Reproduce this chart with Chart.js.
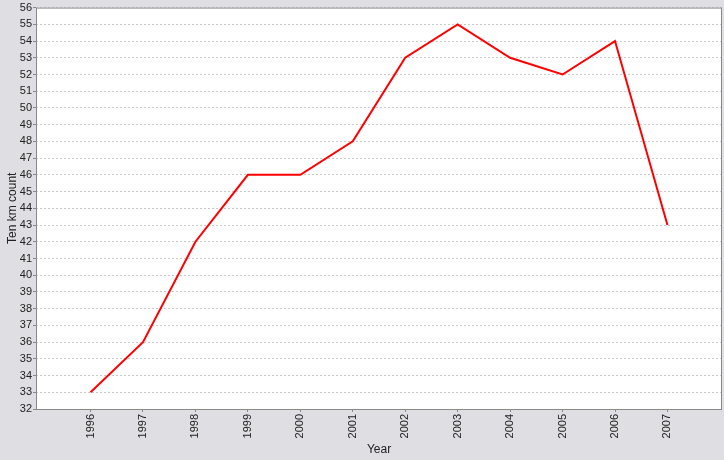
<!DOCTYPE html>
<html>
<head>
<meta charset="utf-8">
<script src="https://cdn.jsdelivr.net/npm/chart.js@4"></script>
<style>
  html, body { margin: 0; padding: 0; background: #dfdfe3; }
  #wrap { position: relative; width: 724px; height: 460px; }
</style>
</head>
<body>
<div id="wrap"><canvas id="chart"></canvas></div>
<script>
// data
const years = [1996, 1997, 1998, 1999, 2000, 2001, 2002, 2003, 2004, 2005, 2006, 2007];
const counts = [33, 36, 42, 46, 46, 48, 53, 55, 53, 52, 54, 43];
const yMin = 32;
const yMax = 56;

const font = { family: 'Liberation Sans, Arial, sans-serif', size: 11 };

// white plot area + grey frame, like the original
const frame = {
  id: 'frame',
  beforeDraw(chart) {
    const { ctx, chartArea: a } = chart;
    ctx.save();
    ctx.fillStyle = '#ffffff';
    ctx.fillRect(a.left, a.top, a.right - a.left, a.bottom - a.top);
    ctx.restore();
  },
  afterDatasetsDraw(chart) {
    const { ctx, chartArea: a } = chart;
    ctx.save();
    ctx.strokeStyle = '#8a8a8a';
    ctx.lineWidth = 1;
    ctx.strokeRect(a.left + 0.5, a.top + 0.5, a.right - a.left - 1, a.bottom - a.top);
    ctx.restore();
  }
};

new Chart(document.getElementById('chart'), {
  type: 'line',
  data: {
    datasets: [{
      label: 'Ten km count',
      data: years.map((y, i) => ({ x: y, y: counts[i] })),
      borderColor: '#ff0000',
      borderWidth: 2,
      pointRadius: 0,
      tension: 0,
      fill: false
    }]
  },
  options: {
    responsive: true,
    maintainAspectRatio: false,
    animation: false,
    layout: { padding: { top: 6, right: 2, left: 0, bottom: 0 } },
    plugins: {
      legend: { display: false },
      tooltip: { enabled: false }
    },
    scales: {
      x: {
        type: 'linear',
        min: years[0] - 1.04,
        max: years[years.length - 1] + 1.04,
        afterBuildTicks: (scale) => { scale.ticks = years.map(v => ({ value: v })); },
        afterFit: (scale) => { scale.height = 51; },
        grid: { display: true, drawOnChartArea: false, tickLength: 3, color: '#8a8a8a' },
        border: { display: false },
        ticks: {
          font: font,
          color: '#222',
          minRotation: 90,
          maxRotation: 90,
          padding: 2,
          callback: (v) => String(v)
        },
        title: { display: true, text: 'Year', font: { family: font.family, size: 12 }, color: '#222', padding: { top: 0, bottom: 3 } }
      },
      y: {
        min: yMin,
        max: yMax,
        afterFit: (scale) => { scale.width = 36; },
        grid: {
          color: '#c8c8c8',
          tickColor: '#8a8a8a',
          tickLength: 3,
          drawTicks: true
        },
        border: { display: false, dash: [2, 2] },
        ticks: { stepSize: 1, font: font, color: '#222', padding: 1 },
        title: { display: true, text: 'Ten km count', font: { family: font.family, size: 12 }, color: '#222', padding: { top: 5, bottom: 0 } }
      }
    }
  },
  plugins: [frame]
});
</script>
</body>
</html>
